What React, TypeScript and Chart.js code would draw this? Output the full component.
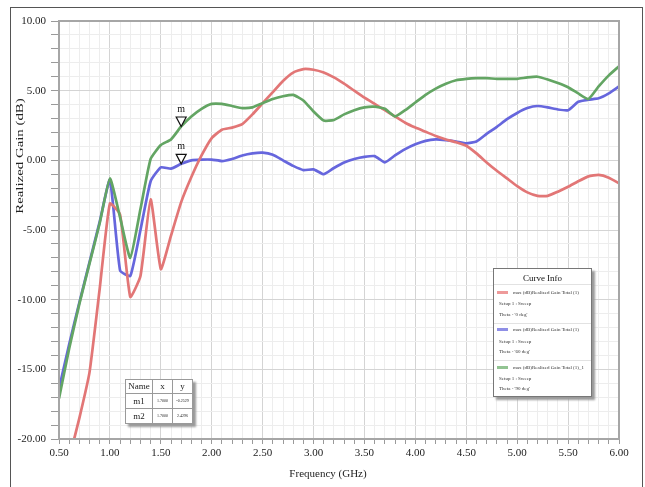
import React, { useEffect, useRef } from "react";
import { Chart, registerables } from "chart.js";

Chart.register(...registerables);

const FONT = "'Liberation Serif', 'Times New Roman', serif";

// Frequency sweep (GHz)
const freqGHz = [
  0.5, 0.6, 0.7, 0.8, 0.9, 1.0, 1.1, 1.2, 1.3, 1.4, 1.5, 1.6, 1.7, 1.8, 1.9,
  2.0, 2.1, 2.2, 2.3, 2.4, 2.5, 2.6, 2.7, 2.8, 2.9, 3.0, 3.1, 3.2, 3.3, 3.4,
  3.5, 3.6, 3.7, 3.8, 3.9, 4.0, 4.1, 4.2, 4.3, 4.4, 4.5, 4.6, 4.7, 4.8, 4.9,
  5.0, 5.1, 5.2, 5.3, 5.4, 5.5, 5.6, 5.7, 5.8, 5.9, 6.0,
];

// Theta = 0 deg (red)
const gainTheta0: (number | null)[] = [
  null, -21.4, -18.5, -15.2, -9.2, -3.1, -3.9, -9.8, -8.3, -2.8, -7.8, -5.4,
  -3.0, -1.2, 0.35, 1.6, 2.2, 2.35, 2.6, 3.3, 4.1, 4.9, 5.7, 6.3, 6.55, 6.5,
  6.3, 5.95, 5.5, 5.0, 4.5, 4.05, 3.6, 3.15, 2.7, 2.35, 2.05, 1.75, 1.5, 1.3,
  1.05, 0.5, -0.15, -0.75, -1.3, -1.85, -2.3, -2.55, -2.55, -2.25, -1.9, -1.5,
  -1.15, -1.05, -1.25, -1.65,
];

// Theta = 60 deg (blue)
const gainTheta60 = [
  -16.4, -13.2, -10.2, -7.3, -4.4, -1.4, -7.9, -8.3, -5.0, -1.5, -0.5, -0.6,
  -0.25, 0.0, 0.05, 0.05, -0.05, 0.1, 0.35, 0.5, 0.55, 0.4, 0.0, -0.4, -0.7,
  -0.65, -1.0, -0.55, -0.15, 0.1, 0.25, 0.3, -0.15, 0.35, 0.8, 1.15, 1.4, 1.5,
  1.45, 1.35, 1.22, 1.35, 1.9, 2.4, 2.95, 3.4, 3.75, 3.9, 3.8, 3.65, 3.6, 4.2,
  4.35, 4.45, 4.8, 5.3,
];

// Theta = 90 deg (green)
const gainTheta90 = [
  -17.1, -13.5, -10.3, -7.4, -4.5, -1.3, -4.1, -7.0, -3.5, 0.1, 1.1, 1.5,
  2.43, 3.15, 3.7, 4.05, 4.05, 3.9, 3.75, 3.8, 4.1, 4.4, 4.6, 4.7, 4.3, 3.5,
  2.85, 2.9, 3.3, 3.6, 3.8, 3.85, 3.7, 3.15, 3.6, 4.15, 4.7, 5.15, 5.5, 5.75,
  5.85, 5.9, 5.9, 5.85, 5.85, 5.85, 5.95, 6.0, 5.8, 5.55, 5.25, 4.8, 4.4, 5.3,
  6.1, 6.75,
];

// Markers
const markerNames = ["m1", "m2"];
const markerFreq = [1.7, 1.7];
const markerGain = [-0.2529, 2.4296];
const markerFreqText = ["1.7000", "1.7000"];
const markerGainText = ["-0.2529", "2.4296"];

// Axis settings
const xMin = 0.5;
const xMax = 6.0;
const xMinorStep = 0.1;
const xMajorStep = 0.5;
const yMin = -20;
const yMax = 10;
const yMinorStep = 1;
const yMajorStep = 5;
const xTitle = "Frequency (GHz)";
const yTitle = "Realized Gain (dB)";

// Legend entries
const curveNames = [
  "max (dB)Realized Gain Total (1)",
  "max (dB)Realized Gain Total (1)",
  "max (dB)Realized Gain Total (1)_1",
];
const curveSetups = ["Setup 1 : Sweep", "Setup 1 : Sweep", "Setup 1 : Sweep"];
const curveThetas = ["Theta - '0 deg'", "Theta - '60 deg'", "Theta - '90 deg'"];
const curveColors = ["#e27676", "#6666dd", "#63a563"];
const swatchColors = ["#ee9a9a", "#8f8fe6", "#92c492"];

const isMultiple = (v: number, step: number) =>
  Math.abs(v / step - Math.round(v / step)) < 1e-6;

const toPoints = (ys: (number | null)[]) =>
  freqGHz.map((f, i) => ({ x: f, y: ys[i] }));

const frameAndMarkers = {
  id: "frameAndMarkers",
  afterDatasetsDraw(chart: any) {
    const { ctx, chartArea, scales } = chart;
    const x = scales.x;
    const y = scales.y;
    ctx.save();
    // plot frame
    ctx.strokeStyle = "#a6a6a6";
    ctx.lineWidth = 2;
    ctx.strokeRect(
      chartArea.left,
      chartArea.top,
      chartArea.right - chartArea.left,
      chartArea.bottom - chartArea.top
    );
    // markers
    markerNames.forEach((_, i) => {
      const px = x.getPixelForValue(markerFreq[i]);
      const py = y.getPixelForValue(markerGain[i]);
      ctx.beginPath();
      ctx.moveTo(px, py);
      ctx.lineTo(px - 5, py - 9.5);
      ctx.lineTo(px + 5, py - 9.5);
      ctx.closePath();
      ctx.fillStyle = "rgba(255,255,255,0.85)";
      ctx.fill();
      ctx.strokeStyle = "#111";
      ctx.lineWidth = 1.2;
      ctx.stroke();
      ctx.fillStyle = "#111";
      ctx.font = `10px ${FONT}`;
      ctx.textAlign = "center";
      ctx.textBaseline = "middle";
      ctx.fillText("m", px, py - 17);
    });
    ctx.restore();
  },
};

export default function App() {
  const ref = useRef<HTMLCanvasElement>(null);

  useEffect(() => {
    document.body.style.margin = "0";
    const chart = new Chart(ref.current as HTMLCanvasElement, {
      type: "line",
      data: {
        datasets: [
          {
            label: "Theta 90",
            data: toPoints(gainTheta90) as any,
            borderColor: curveColors[2],
            borderWidth: 2.7,
            pointRadius: 0,
            tension: 0.15,
          },
          {
            label: "Theta 0",
            data: toPoints(gainTheta0) as any,
            borderColor: curveColors[0],
            borderWidth: 2.7,
            pointRadius: 0,
            tension: 0.15,
          },
          {
            label: "Theta 60",
            data: toPoints(gainTheta60) as any,
            borderColor: curveColors[1],
            borderWidth: 2.7,
            pointRadius: 0,
            tension: 0.15,
          },
        ],
      },
      options: {
        responsive: false,
        animation: false,
        events: [],
        layout: { padding: { top: 21, right: 26, left: 0, bottom: 0 } },
        plugins: {
          legend: { display: false },
          tooltip: { enabled: false },
        },
        scales: {
          x: {
            type: "linear",
            min: xMin,
            max: xMax,
            afterFit: (s: any) => {
              s.height = 48;
            },
            border: { display: false },
            grid: {
              color: (c: any) =>
                isMultiple(c.tick.value, xMajorStep) ? "#d4d4d4" : "#ededed",
              tickColor: "#9a9a9a",
              tickLength: 5,
              lineWidth: 1,
            },
            ticks: {
              stepSize: xMinorStep,
              autoSkip: false,
              maxRotation: 0,
              padding: 3,
              color: "#222",
              font: { family: FONT, size: 11 },
              callback: (v: any) =>
                isMultiple(Number(v), xMajorStep) ? Number(v).toFixed(2) : "",
            },
            title: { display: false },
          },
          y: {
            min: yMin,
            max: yMax,
            afterFit: (s: any) => {
              s.width = 59;
            },
            border: { display: false },
            grid: {
              color: (c: any) =>
                isMultiple(c.tick.value, yMajorStep) ? "#d4d4d4" : "#ededed",
              tickColor: "#9a9a9a",
              tickLength: 8,
              lineWidth: 1,
            },
            ticks: {
              stepSize: yMinorStep,
              autoSkip: false,
              padding: 5,
              color: "#222",
              font: { family: FONT, size: 11 },
              callback: (v: any) =>
                isMultiple(Number(v), yMajorStep) ? Number(v).toFixed(2) : "",
            },
            title: { display: false },
          },
        },
      },
      plugins: [frameAndMarkers],
    });
    return () => chart.destroy();
  }, []);

  const legendRows = [
    { sw: 24, setup: 35, theta: 46 },
    { sw: 61, setup: 73, theta: 83 },
    { sw: 99, setup: 110, theta: 120 },
  ];

  const cell: React.CSSProperties = {
    border: "1px solid #9a9a9a",
    padding: 0,
    textAlign: "center",
    verticalAlign: "middle",
    lineHeight: 1,
  };

  return (
    <div
      style={{
        position: "relative",
        width: 645,
        height: 487,
        overflow: "hidden",
        background: "#fff",
        fontFamily: FONT,
      }}
    >
      <canvas
        ref={ref}
        width={645}
        height={487}
        style={{ position: "absolute", left: 0, top: 0 }}
      />
      {/* outer frame (open at the bottom edge of the picture) */}
      <div
        style={{
          position: "absolute",
          left: 10,
          top: 7,
          width: 633,
          height: 490,
          border: "1px solid #555",
          boxSizing: "border-box",
          pointerEvents: "none",
        }}
      />
      {/* y axis title */}
      <div
        style={{
          position: "absolute",
          left: 19,
          top: 156,
          transform: "translate(-50%, -50%) rotate(-90deg) scaleX(1.35)",
          whiteSpace: "nowrap",
          fontSize: 11,
          color: "#222",
        }}
      >
        {yTitle}
      </div>
      {/* x axis title */}
      <div
        style={{
          position: "absolute",
          left: 328,
          top: 473,
          transform: "translate(-50%, -50%)",
          whiteSpace: "nowrap",
          fontSize: 11,
          color: "#222",
        }}
      >
        {xTitle}
      </div>
      {/* Curve Info legend */}
      <div
        style={{
          position: "absolute",
          left: 493,
          top: 268,
          width: 99,
          height: 129,
          border: "1px solid #777",
          boxSizing: "border-box",
          background: "#fff",
          boxShadow: "3px 3px 2px #9a9a9a",
          color: "#333",
        }}
      >
        <div
          style={{
            position: "absolute",
            left: 0,
            right: 0,
            top: 3,
            textAlign: "center",
            fontSize: 9,
            lineHeight: "12px",
            color: "#111",
          }}
        >
          Curve Info
        </div>
        {[15, 54, 91].map((t, i) => (
          <div
            key={"sep" + i}
            style={{
              position: "absolute",
              left: 0,
              right: 0,
              top: t,
              height: 1,
              background: "#e2e2e2",
            }}
          />
        ))}
        {legendRows.map((r, i) => (
          <React.Fragment key={"lr" + i}>
            <div
              style={{
                position: "absolute",
                left: 3,
                top: r.sw - 2,
                width: 11,
                height: 3,
                background: swatchColors[i],
              }}
            />
            <div
              style={{
                position: "absolute",
                left: 19,
                top: r.sw - 4,
                fontSize: 5,
                lineHeight: "8px",
                whiteSpace: "nowrap",
              }}
            >
              {curveNames[i]}
            </div>
            <div
              style={{
                position: "absolute",
                left: 5,
                top: r.setup - 4,
                fontSize: 5,
                lineHeight: "8px",
                whiteSpace: "nowrap",
              }}
            >
              {curveSetups[i]}
            </div>
            <div
              style={{
                position: "absolute",
                left: 5,
                top: r.theta - 4,
                fontSize: 5,
                lineHeight: "8px",
                whiteSpace: "nowrap",
              }}
            >
              {curveThetas[i]}
            </div>
          </React.Fragment>
        ))}
      </div>
      {/* marker table */}
      <table
        style={{
          position: "absolute",
          left: 125,
          top: 379,
          width: 64,
          height: 45,
          borderCollapse: "collapse",
          border: "1.5px solid #666",
          background: "#fff",
          boxShadow: "3px 3px 2px #9a9a9a",
          tableLayout: "fixed",
          color: "#222",
        }}
      >
        <tbody>
          <tr style={{ height: 14 }}>
            <td style={{ ...cell, width: 26, fontSize: 9 }}>Name</td>
            <td style={{ ...cell, width: 19, fontSize: 9 }}>x</td>
            <td style={{ ...cell, width: 19, fontSize: 9 }}>y</td>
          </tr>
          {markerNames.map((n, i) => (
            <tr key={n} style={{ height: 15 }}>
              <td style={{ ...cell, fontSize: 9 }}>{n}</td>
              <td style={{ ...cell, fontSize: 4 }}>{markerFreqText[i]}</td>
              <td style={{ ...cell, fontSize: 4 }}>{markerGainText[i]}</td>
            </tr>
          ))}
        </tbody>
      </table>
    </div>
  );
}
